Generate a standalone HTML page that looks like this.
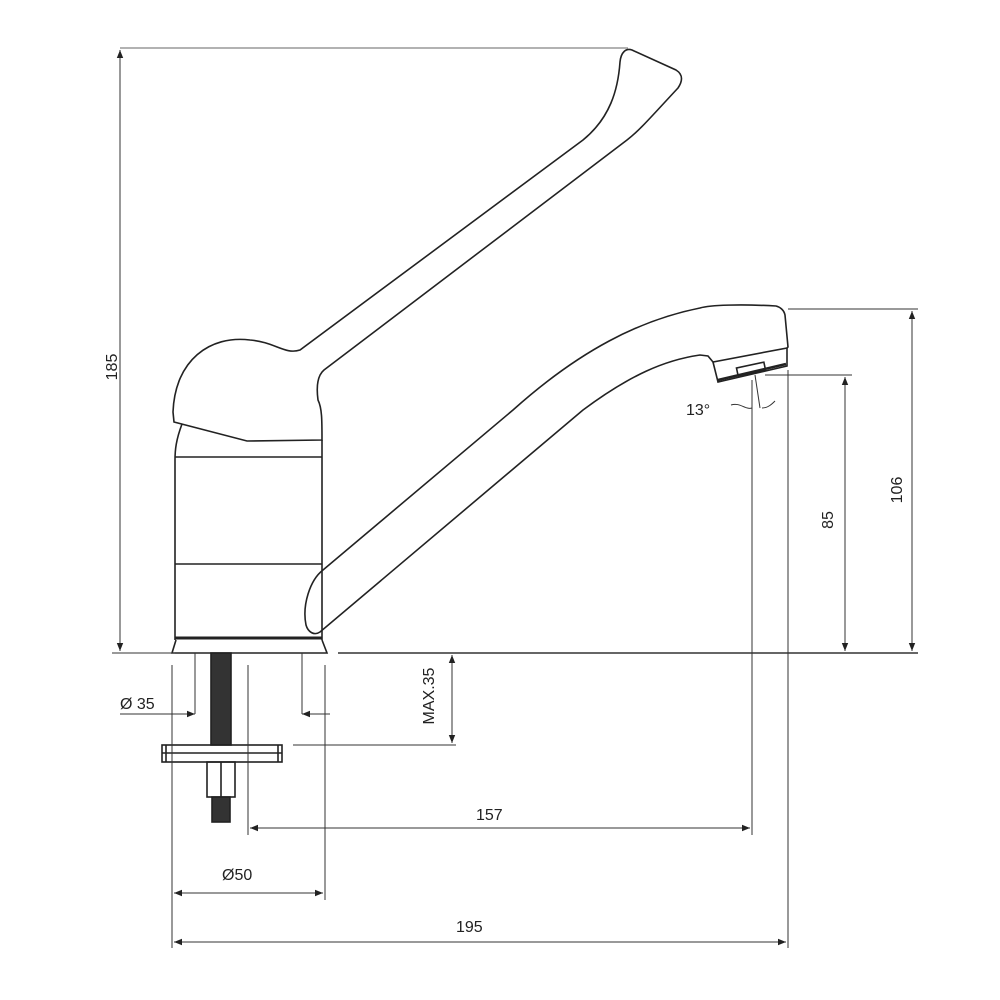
<!DOCTYPE html>
<html><head><style>body{margin:0;background:#fff}svg{display:block}text{font-family:"Liberation Sans Narrow","Liberation Sans",sans-serif;font-size:16px;fill:#222}</style></head><body>
<svg width="1000" height="1000" viewBox="0 0 1000 1000" xmlns="http://www.w3.org/2000/svg">
<defs><marker id="a" viewBox="0 0 10 10" refX="10" refY="5" markerWidth="14" markerHeight="8" orient="auto-start-reverse" markerUnits="userSpaceOnUse"><path d="M0,1 L10,5 L0,9z" fill="#222"/></marker></defs>
<g fill="none" stroke="#222" stroke-width="1.6">
<path d="M174,422 L173,412 C175,360 210,335 250,340 C275,342 285,355 300,350 L583,140 C610,118 618,90 620,62 C621,52 626,48 632,50 L676,70 C684,75 682,82 678,88 C650,118 640,130 627,140 L324,370 C318,375 316,385 318,400 C322,408 322,420 322,440 L247,441 Z"/>
<path d="M182,424 C176,440 175,450 175,460 L175,640 M322,440 L322,640"/>
<line x1="175" y1="457" x2="322" y2="457"/>
<line x1="175" y1="564" x2="322" y2="564"/>
<path d="M175,638 L322,638" stroke-width="3"/>
<path d="M176,640 L172,653 L327,653 L322,640"/>
<path d="M323,570 C310,580 302,605 306,625 C308,632 314,636 320,632 L583,410 C630,375 665,360 700,355 L708,356 L713,362 L787,348 L788,347 L785,315 C784,310 780,307 776,306 C740,304 710,305 700,308 C640,320 580,350 513,410 Z"/>
<path d="M713,362 L718,382 L787,366 L787,348"/>
<rect x="737" y="365" width="28" height="8" transform="rotate(-12 751 369)"/>
<path d="M718,380 L786,364" stroke-width="2.5"/>
<rect x="211" y="653" width="20" height="92" fill="#333"/>
<rect x="162" y="745" width="120" height="17"/>
<line x1="166" y1="745" x2="166" y2="762"/><line x1="278" y1="745" x2="278" y2="762"/><line x1="162" y1="753" x2="282" y2="753"/>
<rect x="207" y="762" width="28" height="35"/><line x1="221" y1="762" x2="221" y2="797"/>
<rect x="212" y="797" width="18" height="25" fill="#333"/>
</g>
<g fill="none" stroke="#333" stroke-width="1">
<line x1="120" y1="48" x2="628" y2="48" stroke="#666"/>
<line x1="112" y1="653" x2="175" y2="653"/>
<line x1="120" y1="50" x2="120" y2="651" marker-start="url(#a)" marker-end="url(#a)"/>
<line x1="338" y1="653" x2="918" y2="653" stroke-width="1.6"/>
<line x1="788" y1="309" x2="918" y2="309"/>
<line x1="912" y1="311" x2="912" y2="651" marker-start="url(#a)" marker-end="url(#a)"/>
<line x1="765" y1="375" x2="852" y2="375"/>
<line x1="845" y1="377" x2="845" y2="651" marker-start="url(#a)" marker-end="url(#a)"/>
<line x1="452" y1="655" x2="452" y2="743" marker-start="url(#a)" marker-end="url(#a)"/>
<line x1="293" y1="745" x2="456" y2="745"/>
<line x1="195" y1="653" x2="195" y2="714"/><line x1="302" y1="653" x2="302" y2="714"/>
<line x1="120" y1="714" x2="195" y2="714" marker-end="url(#a)"/>
<line x1="330" y1="714" x2="302" y2="714" marker-end="url(#a)"/>
<line x1="172" y1="665" x2="172" y2="948"/>
<line x1="248" y1="665" x2="248" y2="835"/>
<line x1="325" y1="665" x2="325" y2="900"/>
<line x1="250" y1="828" x2="750" y2="828" marker-start="url(#a)" marker-end="url(#a)"/>
<line x1="752" y1="380" x2="752" y2="835"/>
<line x1="174" y1="893" x2="323" y2="893" marker-start="url(#a)" marker-end="url(#a)"/>
<line x1="174" y1="942" x2="786" y2="942" marker-start="url(#a)" marker-end="url(#a)"/>
<line x1="788" y1="370" x2="788" y2="948"/>
<line x1="755" y1="375" x2="760" y2="408"/>
<path d="M731,405 C740,402 745,410 752,408 M762,408 C768,408 772,404 775,401"/>
</g>
<text x="120" y="709">Ø 35</text>
<text x="222" y="880">Ø50</text>
<text x="476" y="820">157</text>
<text x="456" y="932">195</text>
<text x="686" y="415">13°</text>
<text transform="translate(117,367) rotate(-90)" text-anchor="middle">185</text>
<text transform="translate(902,490) rotate(-90)" text-anchor="middle">106</text>
<text transform="translate(833,520) rotate(-90)" text-anchor="middle">85</text>
<text transform="translate(434,696) rotate(-90)" text-anchor="middle">MAX.35</text>
</svg>
</body></html>
